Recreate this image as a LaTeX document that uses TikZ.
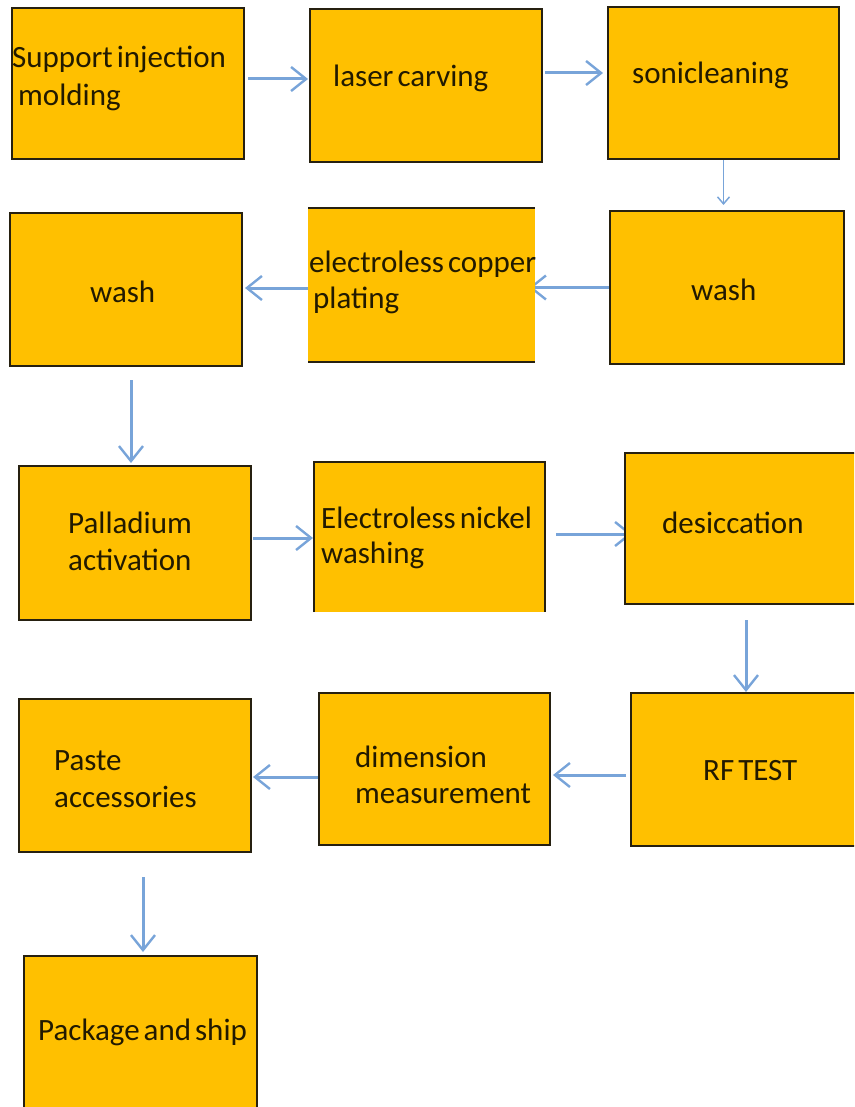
\documentclass[tikz,border=0pt]{standalone}
\usepackage{fontspec}
\setmainfont{Carlito}
\usetikzlibrary{arrows.meta,backgrounds}
\definecolor{gold}{HTML}{FFC000}
\definecolor{arrowblue}{HTML}{78A4D9}
\definecolor{txt}{HTML}{221A00}
\definecolor{edge}{HTML}{262010}
\newcommand{\lblfont}{\fontsize{31}{37}\selectfont\spaceskip=4pt\relax}
\begin{document}
\begin{tikzpicture}[x=1pt,y=-1pt,
  box/.style={rectangle, fill=gold, draw=edge, line width=2.8pt, inner sep=0pt, outer sep=0pt},
  openbox/.style={rectangle, fill=gold, draw=none, inner sep=0pt, outer sep=0pt},
  edgeline/.style={draw=edge, line width=2.8pt},
  lbl/.style={anchor=base west, inner sep=0pt, font=\lblfont, text=txt},
  arr/.style={draw=arrowblue, line width=3pt, -{Straight Barb[length=15pt,width=24pt,line width=2.4pt]}},
  thinarr/.style={draw=arrowblue, line width=1.8pt, -{Straight Barb[length=7pt,width=12pt,line width=1.5pt]}}]
\useasboundingbox (0,0) rectangle (854,1107);
\clip (0,0) rectangle (854,1107);

% boxes
\node[box, minimum width=232pt, minimum height=151pt] (A) at (128,83.5) {};
\node[box, minimum width=232pt, minimum height=153pt] (B) at (426,85.5) {};
\node[box, minimum width=231pt, minimum height=152pt] (C) at (723.5,83) {};
\node[box, minimum width=232pt, minimum height=153pt] (D) at (126,289.5) {};
\node[openbox, minimum width=227pt, minimum height=154pt] (E) at (421.5,285) {};
\draw[edgeline] (E.north west) -- (E.north east);
\draw[edgeline] (E.south west) -- (E.south east);
\node[box, minimum width=234pt, minimum height=153pt] (F) at (727,287.5) {};
\node[box, minimum width=232pt, minimum height=154pt] (G) at (135,543) {};
\node[openbox, minimum width=231pt, minimum height=150pt] (H) at (429.5,537) {};
\draw[edgeline] (H.south west) -- (H.north west) -- (H.north east) -- (H.south east);
\node[box, minimum width=235pt, minimum height=151pt] (I) at (742.5,528.5) {};
\node[box, minimum width=232pt, minimum height=153pt] (J) at (135,775.5) {};
\node[box, minimum width=231pt, minimum height=152pt] (K) at (434.5,769) {};
\node[box, minimum width=229pt, minimum height=153pt] (L) at (745.5,769.5) {};
\node[box, minimum width=233pt, minimum height=154pt] (M) at (140.5,1033) {};

% labels
\node[lbl] (tA1) at (12,68) {Support injection};
\node[lbl] (tA2) at (18,106) {molding};
\node[lbl] (tB) at (333,87) {laser carving};
\node[lbl] (tC) at (632,84) {sonicleaning};
\node[lbl] (tD) at (90,302) {wash};
\node[lbl] (tE1) at (309,272) {electroless copper};
\node[lbl] (tE2) at (313,308) {plating};
\node[lbl] (tF) at (691,300) {wash};
\node[lbl] (tG1) at (68,533) {Palladium};
\node[lbl] (tG2) at (68,570) {activation};
\node[lbl] (tH1) at (321,528) {Electroless nickel};
\node[lbl] (tH2) at (321,563) {washing};
\node[lbl] (tI) at (662,533) {desiccation};
\node[lbl] (tJ1) at (54,770) {Paste};
\node[lbl] (tJ2) at (54,807) {accessories};
\node[lbl] (tK1) at (355,767) {dimension};
\node[lbl] (tK2) at (355,803) {measurement};
\node[lbl] (tL) at (703,780) {RF TEST};
\node[lbl] (tM) at (38,1040) {Package and ship};

% connector anchors
\coordinate (ab) at ([yshift=4.5pt]A.east);
\coordinate (bc) at ([yshift=12.5pt]B.east);
\coordinate (cf) at (C.south);
\coordinate (fe) at (F.west);
\coordinate (ed) at ([yshift=-3pt]E.west);
\coordinate (dg) at ([xshift=5pt]D.south);
\coordinate (gh) at ([yshift=5pt]G.east);
\coordinate (hi) at ([yshift=3pt]H.east);
\coordinate (il) at ([xshift=3.5pt]I.south);
\coordinate (lk) at ([yshift=-5.5pt]L.west);
\coordinate (kj) at ([yshift=-8pt]K.west);
\coordinate (jm) at ([xshift=8pt]J.south);

\begin{pgfonlayer}{background}
\draw[arr, shorten <=4pt, shorten >=2pt] (ab) -- (ab -| B.west);
\draw[arr, shorten <=3pt, shorten >=5pt] (bc) -- (bc -| C.west);
\draw[thinarr, shorten <=1pt, shorten >=6pt] (cf) -- (cf |- F.north);
\draw[arr, shorten <=1pt, shorten >=-6pt] (fe) -- (fe -| E.east);
\draw[arr, shorten >=3pt] (ed) -- (ed -| D.east);
\draw[arr, shorten <=14pt, shorten >=3pt] (dg) -- (dg |- G.north);
\draw[arr, shorten <=2pt, shorten >=1pt] (gh) -- (gh -| H.west);
\draw[arr, shorten <=11pt, shorten >=-7pt] (hi) -- (hi -| I.west);
\draw[arr, shorten <=16pt, shorten >=1pt] (il) -- (il |- L.north);
\draw[arr, shorten <=5pt, shorten >=3pt] (lk) -- (lk -| K.east);
\draw[arr, shorten >=2pt] (kj) -- (kj -| J.east);
\draw[arr, shorten <=25pt, shorten >=4pt] (jm) -- (jm |- M.north);
\end{pgfonlayer}
\end{tikzpicture}
\end{document}
